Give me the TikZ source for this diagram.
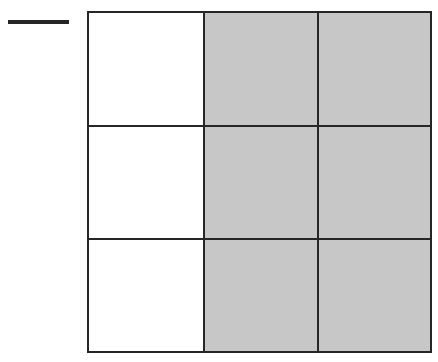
\documentclass[tikz,border=0pt]{standalone}
\begin{document}
\begin{tikzpicture}[x=1pt,y=-1pt,
  cell/.style={draw=black!85, line width=1.8pt},
  shaded/.style={cell, fill=black!22},
  plain/.style={cell, fill=white}]
\useasboundingbox (0,0) rectangle (438,361);
% white column
\path[plain] (88,12) rectangle (204,126);
\path[plain] (88,126) rectangle (204,239);
\path[plain] (88,239) rectangle (204,352);
% gray columns
\path[shaded] (204,12) rectangle (318,126);
\path[shaded] (204,126) rectangle (318,239);
\path[shaded] (204,239) rectangle (318,352);
\path[shaded] (318,12) rectangle (431,126);
\path[shaded] (318,126) rectangle (431,239);
\path[shaded] (318,239) rectangle (431,352);
% dash
\coordinate (d1) at (8,22);
\coordinate (d2) at (69,22);
\draw[line width=3.5pt, black!85] (d1) -- (d2);
\end{tikzpicture}
\end{document}
